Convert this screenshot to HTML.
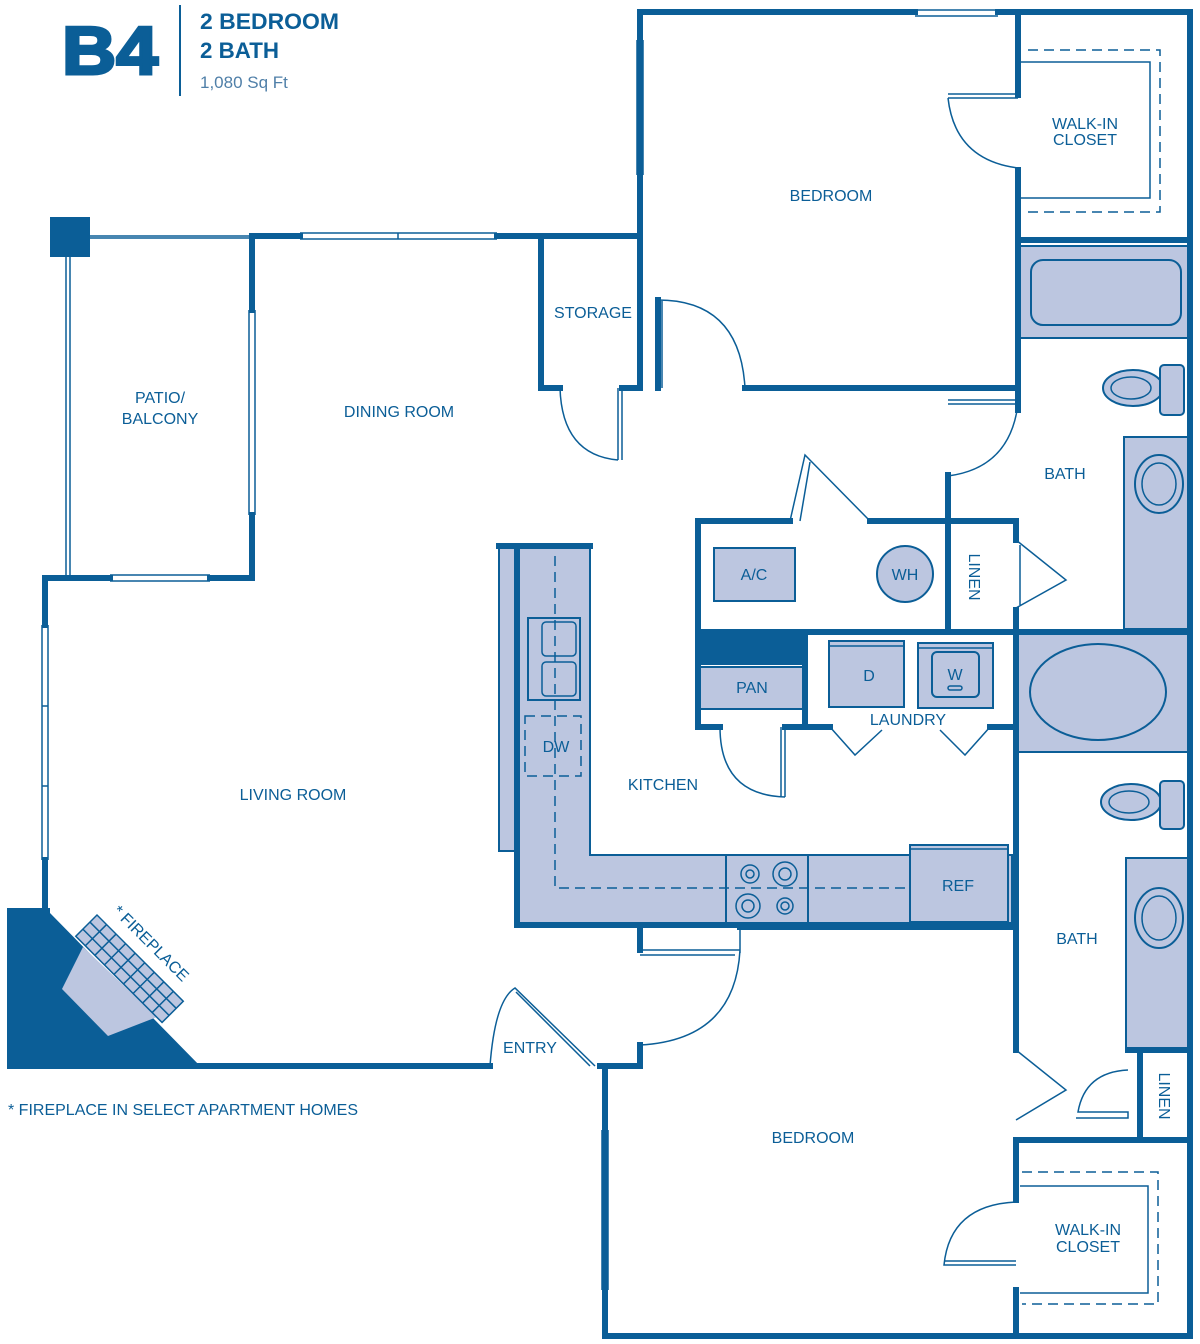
<!DOCTYPE html>
<html><head><meta charset="utf-8"><style>
html,body{margin:0;padding:0;background:#fff;}
svg{display:block;}
text{font-family:"Liberation Sans",Arial,sans-serif;fill:#0b5e97;}
</style></head><body>
<svg width="1200" height="1344" viewBox="0 0 1200 1344" xmlns="http://www.w3.org/2000/svg">
<g>
<text x="110" y="74" font-size="68" font-weight="bold" text-anchor="middle" stroke="#0b5e97" stroke-width="3" textLength="96" lengthAdjust="spacingAndGlyphs">B4</text>
<line x1="180" y1="5" x2="180" y2="96" stroke="#0b5e97" stroke-width="2"/>
<text x="200" y="29" font-size="22" font-weight="bold" textLength="139" lengthAdjust="spacingAndGlyphs">2 BEDROOM</text>
<text x="200" y="58" font-size="22" font-weight="bold" textLength="79" lengthAdjust="spacingAndGlyphs">2 BATH</text>
<text x="200" y="88" font-size="17" style="fill:#4f7fa8">1,080 Sq Ft</text>
</g>

<g fill="#bcc6e0" stroke="#0b5e97" stroke-width="2">
<rect x="499" y="546" width="20" height="305"/>
<path d="M519 546 H590 V855 H1012 V925 H519 Z"/>
<rect x="528" y="618" width="52" height="82"/>
<rect x="726" y="855" width="82" height="70"/>
<rect x="910" y="845" width="98" height="77"/>
<rect x="714" y="548" width="81" height="53"/>
<circle cx="905" cy="574" r="28"/>
<rect x="700" y="667" width="103" height="42"/>
<rect x="829" y="641" width="75" height="66"/>
<rect x="918" y="643" width="75" height="65"/>
<rect x="932" y="652" width="47" height="45" rx="5"/>
<rect x="1020" y="246" width="168" height="92"/>
<rect x="1031" y="260" width="150" height="65" rx="12"/>
<rect x="1124" y="437" width="64" height="192"/>
<rect x="1018" y="634" width="170" height="118"/>
<ellipse cx="1098" cy="692" rx="68" ry="48"/>
<rect x="1126" y="858" width="62" height="190"/>
<ellipse cx="1159" cy="484" rx="24" ry="29"/>
<ellipse cx="1159" cy="918" rx="24" ry="30"/>
<ellipse cx="1133" cy="388" rx="30" ry="18"/>
<rect x="1160" y="365" width="24" height="50" rx="4"/>
<ellipse cx="1131" cy="802" rx="30" ry="18"/>
<rect x="1160" y="781" width="24" height="48" rx="4"/>
</g>
<g fill="none" stroke="#0b5e97" stroke-width="1.5">
<rect x="542" y="622" width="34" height="34" rx="4"/><rect x="542" y="662" width="34" height="34" rx="4"/>
<circle cx="750" cy="874" r="9"/><circle cx="785" cy="874" r="12"/><circle cx="748" cy="906" r="12"/><circle cx="785" cy="906" r="8"/>
<circle cx="750" cy="874" r="4"/><circle cx="785" cy="874" r="6"/><circle cx="748" cy="906" r="6"/><circle cx="785" cy="906" r="4"/>
<line x1="910" y1="849" x2="1008" y2="849"/>
<line x1="829" y1="646" x2="904" y2="646"/><line x1="918" y1="648" x2="993" y2="648"/>
<rect x="948" y="686" width="14" height="4" rx="2"/>
<ellipse cx="1159" cy="484" rx="17" ry="21"/><ellipse cx="1159" cy="918" rx="17" ry="22"/>
<ellipse cx="1131" cy="388" rx="20" ry="11"/><ellipse cx="1129" cy="802" rx="20" ry="11"/>
</g>
<g fill="none" stroke="#0b5e97" stroke-width="1.5" stroke-dasharray="10,6">
<rect x="525" y="716" width="56" height="60"/>
<path d="M555 556 V888 H905"/>
<path d="M1028 50 H1160 V212 H1028"/>
<path d="M1022 1172 H1158 V1304 H1022"/>
</g>
<g fill="none" stroke="#0b5e97" stroke-width="1.5">
<path d="M1020 62 H1150 V198 H1020"/>
<path d="M1020 1186 H1148 V1293 H1020"/>
</g>

<!-- fireplace -->
<polygon points="7,908 50,908 50,913 203,1069 7,1069" fill="#0b5e97"/>
<polygon points="83,947 62,989 108,1036 157,1017" fill="#bcc6e0"/>
<g transform="translate(97,915) rotate(45)" fill="#bcc6e0" stroke="#0b5e97" stroke-width="1.5">
<rect x="0" y="0" width="122" height="30"/>
<path fill="none" d="M0 10 H122 M0 20 H122 M13.5 0 V30 M27 0 V30 M40.5 0 V30 M54 0 V30 M67.5 0 V30 M81 0 V30 M94.5 0 V30 M108 0 V30"/>
</g>
<text x="112" y="912" font-size="16" transform="rotate(45 112 912)">* FIREPLACE</text>

<g stroke="#0b5e97" stroke-width="6" fill="none" stroke-linecap="square">
<path d="M640 175 V12 H915 M998 12 H1190 V1336 H605 V1066"/>
<path d="M640 40 V12"/>
<path d="M640 175 V236 H497 M300 236 H252 V310 M252 515 V578 H210 M110 578 H45 V625 M45 860 V908"/>
<path d="M200 1066 H490"/>
<path d="M600 1066 H640 V1045"/>
<path d="M541 236 V388 H560 M622 388 H640 V236"/>
<path d="M658 300 V388 M745 388 H1018 V170 M1018 95 V12"/>
<path d="M1018 240 H1190 M1018 240 V410 M948 475 V630"/>
<path d="M698 521 H790 M870 521 H1016 V540 M1016 610 V632 M698 521 V727 H720 M785 727 H805 V632 M805 727 H830 M990 727 H1016"/>
<path d="M698 632 H1190 M1016 632 V1050 M1016 1140 V1200 M1016 1290 V1336"/>
<path d="M948 521 V630"/>
<path d="M517 546 V925 H1016 M499 546 H590"/>
<path d="M740 927 H1016 M640 927 V950"/>
<path d="M1016 1140 H1190 M1140 1050 V1140 M1128 1050 H1190"/>
<path d="M605 1336 V1290"/>
</g>
<rect x="698" y="632" width="107" height="33" fill="#0b5e97"/>
<rect x="50" y="217" width="40" height="40" fill="#0b5e97"/>
<g stroke="#0b5e97" stroke-width="1.5" fill="none">
<path d="M915 10 H998 M915 16 H998"/>
<path d="M637 40 V175 M643 40 V175"/>
<path d="M300 233 H497 M300 239 H497 M398 233 V239"/>
<path d="M249 310 V515 M255 310 V515 M255 365 V460"/>
<path d="M110 575 H210 M110 581 H210"/>
<path d="M42 625 V860 M48 625 V860 M42 706 H48 M42 786 H48"/>
<path d="M602 1130 V1290 M608 1130 V1290"/>
<path d="M90 236 H250 M90 238 H250 M66 257 V578 M70 257 V578"/>
<path d="M658 300 Q740 300 745 388 M662 300 V388"/>
<path d="M622 388 V460 M618 388 V460 M618 460 Q562 455 560 388"/>
<path d="M948 98 H1018 M948 94 H1018 M948 98 Q955 160 1018 168"/>
<path d="M948 404 H1018 M948 400 H1018 M948 476 Q1010 468 1018 404"/>
<path d="M790 521 L805 455 L870 521 M800 521 L810 462"/>
<path d="M1016 540 L1066 580 L1016 608 M1020 545 V605"/>
<path d="M720 727 Q720 795 785 797 M785 727 V797 M781 727 V797"/>
<path d="M830 727 L855 755 L882 730 M990 727 L965 755 L940 730"/>
<path d="M740 950 Q735 1040 640 1045 M740 927 V953 M640 950 H740 M640 955 H735"/>
<path d="M490 1066 Q495 1000 515 988 L595 1066 M516 992 L590 1066"/>
<path d="M1016 1050 L1066 1090 L1016 1120"/>
<path d="M1128 1070 Q1085 1072 1078 1112 H1128 V1118 H1076"/>
<path d="M1016 1202 Q950 1205 944 1265 H1016 M944 1261 H1016"/>
</g>

<g font-size="16" text-anchor="middle">
<text x="831" y="201">BEDROOM</text>
<text x="1085" y="129">WALK-IN</text><text x="1085" y="145">CLOSET</text>
<text x="593" y="318">STORAGE</text>
<text x="160" y="403">PATIO/</text><text x="160" y="424">BALCONY</text>
<text x="399" y="417">DINING ROOM</text>
<text x="1065" y="479">BATH</text>
<text x="754" y="580">A/C</text>
<text x="905" y="580">WH</text>
<text x="975" y="577" transform="rotate(90 975 577)" dy="6">LINEN</text>
<text x="752" y="693">PAN</text>
<text x="869" y="681">D</text>
<text x="955" y="680">W</text>
<text x="908" y="725">LAUNDRY</text>
<text x="556" y="752">DW</text>
<text x="663" y="790">KITCHEN</text>
<text x="293" y="800">LIVING ROOM</text>
<text x="958" y="891">REF</text>
<text x="1077" y="944">BATH</text>
<text x="530" y="1053">ENTRY</text>
<text x="813" y="1143">BEDROOM</text>
<text x="1165" y="1096" transform="rotate(90 1165 1096)" dy="6">LINEN</text>
<text x="1088" y="1235">WALK-IN</text><text x="1088" y="1252">CLOSET</text>
<text x="8" y="1115" text-anchor="start">*  FIREPLACE IN SELECT APARTMENT HOMES</text>
</g>
</svg>
</body></html>
